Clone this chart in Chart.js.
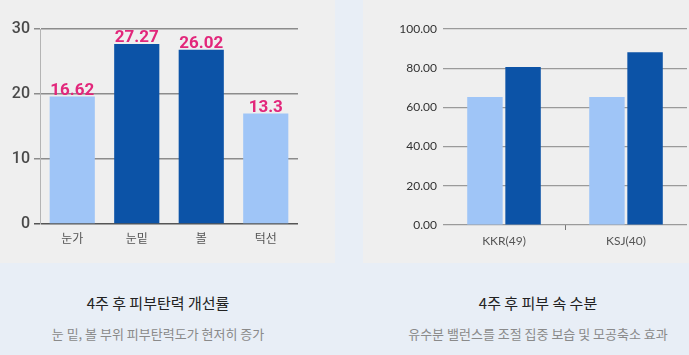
<!DOCTYPE html>
<html>
<head>
<meta charset="utf-8">
<script src="https://cdn.jsdelivr.net/npm/chart.js@4/dist/chart.umd.min.js"></script>
<style>
  html, body { margin: 0; padding: 0; }
  body { width: 689px; height: 355px; background: #e8eef6; position: relative; overflow: hidden; }
  .panel { position: absolute; top: 0; height: 263px; background: #efefef; }
  #pl { left: 0; width: 335px; }
  #pr { left: 363px; width: 326px; }
  .cap { position: absolute; text-align: center; font-family: "Noto Sans CJK KR", sans-serif; white-space: nowrap; }
  .t { font-size: 15px; color: #222; top: 292px; line-height: 22px; }
  .s { font-size: 13px; color: #8a8a8a; top: 324px; line-height: 20px; }
</style>
</head>
<body>
<div class="panel" id="pl"><canvas id="cl" width="335" height="263"></canvas></div>
<div class="panel" id="pr"><canvas id="cr" width="326" height="263"></canvas></div>
<div class="cap t" style="left:0;width:316px;">4주 후 피부탄력 개선률</div>
<div class="cap s" style="left:0;width:316px;">눈 밑, 볼 부위 피부탄력도가 현저히 증가</div>
<div class="cap t" style="left:378px;width:320px;">4주 후 피부 속 수분</div>
<div class="cap s" style="left:378px;width:320px;">유수분 밸런스를 조절 집중 보습 및 모공축소 효과</div>
<script>
// ---- Left chart data ----
const leftCategories = ['눈가', '눈밑', '볼', '턱선'];
const leftBarValues = [19.6, 27.7, 26.8, 17.0];
const leftValueLabels = ['16.62', '27.27', '26.02', '13.3'];
const leftTicks = [0, 10, 20, 30];

// ---- Right chart data ----
const rightCategories = ['KKR(49)', 'KSJ(40)'];
const rightBefore = [65.3, 65.3];
const rightAfter = [80.6, 88.1];
const rightTicks = [0, 20, 40, 60, 80, 100];

const LIGHT = '#9fc5f7';
const DARK = '#0c53a7';

const valueLabelPlugin = {
  id: 'valueLabels',
  afterDatasetsDraw(chart) {
    const ctx = chart.ctx;
    const meta = chart.getDatasetMeta(0);
    ctx.save();
    ctx.font = 'bold 17px Roboto';
    ctx.fillStyle = '#e2277b';
    ctx.textAlign = 'center';
    ctx.textBaseline = 'alphabetic';
    meta.data.forEach((bar, i) => {
      ctx.fillText(leftValueLabels[i], bar.x, bar.y - 2);
    });
    ctx.restore();
  }
};

new Chart(document.getElementById('cl'), {
  type: 'bar',
  data: {
    labels: leftCategories,
    datasets: [{
      data: leftBarValues,
      backgroundColor: leftBarValues.map((v, i) => (i === 1 || i === 2) ? DARK : LIGHT),
      categoryPercentage: 0.7,
      barPercentage: 1.0,
      borderWidth: 0
    }]
  },
  options: {
    responsive: false,
    animation: false,
    layout: { padding: { top: 29, right: 37, left: 0, bottom: 0 } },
    plugins: { legend: { display: false }, tooltip: { enabled: false } },
    scales: {
      x: {
        afterFit: s => { s.height = 39; },
        grid: { display: false, drawTicks: false },
        border: { display: false },
        ticks: { font: { family: 'Noto Sans CJK KR', size: 12 }, color: '#555', padding: 7 }
      },
      y: {
        min: 0, max: 30,
        afterFit: s => { s.width = 40; },
        afterBuildTicks: s => { s.ticks = leftTicks.map(v => ({ value: v })); },
        ticks: { font: { family: 'Roboto', size: 16, weight: '500' }, color: '#4a4a4a', padding: 4 },
        grid: {
          color: c => (c.tick && c.tick.value === 0) ? '#555' : '#8c8c8c',
          lineWidth: 1.5,
          drawTicks: true,
          tickLength: 6
        },
        border: { display: true, color: '#b4b4b4', width: 1 }
      }
    }
  },
  plugins: [valueLabelPlugin]
});

new Chart(document.getElementById('cr'), {
  type: 'bar',
  data: {
    labels: rightCategories,
    datasets: [
      { data: rightBefore, backgroundColor: LIGHT, categoryPercentage: 0.625, barPercentage: 0.93, borderWidth: 0 },
      { data: rightAfter, backgroundColor: DARK, categoryPercentage: 0.625, barPercentage: 0.93, borderWidth: 0 }
    ]
  },
  options: {
    responsive: false,
    animation: false,
    layout: { padding: { top: 29, right: 2, left: 0, bottom: 0 } },
    plugins: { legend: { display: false }, tooltip: { enabled: false } },
    scales: {
      x: {
        afterFit: s => { s.height = 38; },
        grid: {
          display: true,
          drawOnChartArea: false,
          drawTicks: true,
          tickLength: 5,
          color: c => c.index === 1 ? '#777' : 'rgba(0,0,0,0)'
        },
        border: { display: false },
        ticks: { font: { family: 'Lato', size: 12 }, color: '#555', padding: 4 }
      },
      y: {
        min: 0, max: 100,
        afterFit: s => { s.width = 80; },
        afterBuildTicks: s => { s.ticks = rightTicks.map(v => ({ value: v })); },
        ticks: { font: { family: 'Lato', size: 12 }, color: '#333', padding: 6, callback: v => Number(v).toFixed(2) },
        grid: { color: '#9a9a9a', lineWidth: 1.2, drawTicks: false },
        border: { display: false }
      }
    }
  }
});
</script>
</body>
</html>
